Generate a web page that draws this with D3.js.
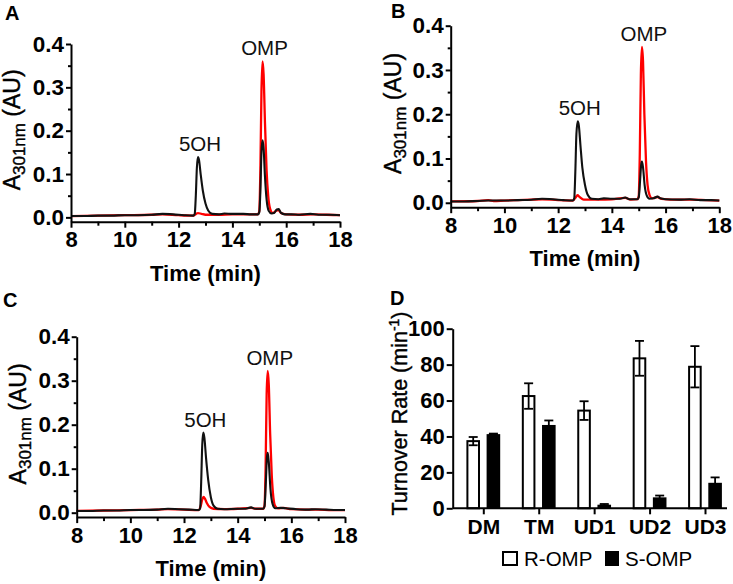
<!DOCTYPE html>
<html><head><meta charset="utf-8">
<script src="https://cdn.jsdelivr.net/npm/d3@7"></script>
<style>body{margin:0;background:#fff}</style>
</head><body>
<svg id="c" width="733" height="584" xmlns="http://www.w3.org/2000/svg"></svg>
<script>
// ---------- DATA ----------
const timeTicks = [8, 10, 12, 14, 16, 18];
const timeMinorTicks = [9, 11, 13, 15, 17];
const absTicks = [0.0, 0.1, 0.2, 0.3, 0.4];
const absMinorTicks = [0.05, 0.15, 0.25, 0.35];

// Panel A chromatograms [time (min), A301 (AU)]
const aBlack = [[8.0,0.003],[8.5,0.003],[9.0,0.004],[9.5,0.004],[10.0,0.005],[10.5,0.005],[11.0,0.006],[11.4,0.008],[11.8,0.007],[12.2,0.005],[12.55,0.004],[12.6,0.008],[12.64,0.05],[12.68,0.115],[12.72,0.139],[12.76,0.132],[12.82,0.1],[12.9,0.062],[13.0,0.032],[13.1,0.016],[13.25,0.008],[13.5,0.007],[13.7,0.009],[14.0,0.008],[14.4,0.008],[14.7,0.007],[14.95,0.007],[15.0,0.012],[15.04,0.06],[15.08,0.15],[15.12,0.178],[15.16,0.16],[15.21,0.095],[15.27,0.042],[15.35,0.015],[15.45,0.009],[15.55,0.01],[15.65,0.018],[15.72,0.019],[15.8,0.011],[15.95,0.007],[16.2,0.007],[16.5,0.006],[16.9,0.008],[17.2,0.006],[17.6,0.006],[18.0,0.005]];
const aRed = [[8.0,0.003],[9.0,0.004],[10.0,0.005],[11.0,0.006],[11.4,0.007],[12.0,0.005],[12.55,0.004],[12.65,0.008],[12.72,0.01],[12.85,0.008],[13.0,0.006],[13.5,0.006],[14.0,0.007],[14.5,0.007],[14.95,0.007],[15.0,0.015],[15.04,0.11],[15.08,0.29],[15.12,0.36],[15.16,0.33],[15.21,0.22],[15.27,0.11],[15.33,0.05],[15.4,0.02],[15.5,0.01],[15.65,0.016],[15.72,0.017],[15.8,0.01],[16.0,0.007],[16.5,0.006],[17.0,0.007],[17.5,0.006],[18.0,0.005]];

// Panel B
const bBlack = [[8.0,0.003],[8.5,0.003],[9.0,0.004],[9.4,0.005],[10.0,0.005],[10.5,0.006],[11.0,0.007],[11.4,0.009],[11.8,0.008],[12.2,0.006],[12.55,0.005],[12.6,0.01],[12.64,0.07],[12.68,0.155],[12.73,0.184],[12.77,0.175],[12.83,0.13],[12.9,0.08],[13.0,0.04],[13.1,0.018],[13.25,0.009],[13.5,0.008],[13.7,0.01],[14.0,0.009],[14.3,0.009],[14.5,0.012],[14.65,0.008],[14.95,0.008],[15.0,0.012],[15.05,0.05],[15.09,0.085],[15.12,0.093],[15.16,0.08],[15.22,0.04],[15.3,0.016],[15.4,0.009],[15.55,0.01],[15.7,0.014],[15.8,0.01],[16.0,0.008],[16.5,0.007],[16.9,0.008],[17.3,0.006],[17.7,0.006],[18.0,0.005]];
const bRed = [[8.0,0.003],[9.0,0.004],[9.4,0.006],[9.6,0.004],[10.0,0.005],[11.0,0.007],[11.4,0.008],[12.0,0.006],[12.55,0.005],[12.65,0.012],[12.72,0.017],[12.8,0.013],[12.95,0.007],[13.5,0.007],[14.0,0.008],[14.5,0.011],[14.7,0.007],[14.95,0.008],[15.0,0.015],[15.04,0.11],[15.08,0.29],[15.12,0.352],[15.16,0.32],[15.21,0.2],[15.27,0.095],[15.33,0.04],[15.4,0.018],[15.5,0.01],[15.7,0.013],[15.85,0.009],[16.5,0.007],[17.0,0.007],[17.5,0.006],[18.0,0.005]];

// Panel C
const cBlack = [[8.0,0.004],[8.5,0.004],[9.0,0.005],[9.5,0.005],[10.0,0.006],[10.5,0.006],[11.0,0.007],[11.4,0.009],[11.8,0.008],[12.2,0.007],[12.55,0.006],[12.6,0.01],[12.64,0.07],[12.68,0.155],[12.72,0.182],[12.76,0.17],[12.82,0.125],[12.9,0.075],[13.0,0.035],[13.1,0.016],[13.25,0.009],[13.5,0.008],[14.0,0.009],[14.3,0.009],[14.5,0.012],[14.65,0.009],[14.95,0.009],[15.0,0.014],[15.05,0.07],[15.09,0.125],[15.12,0.136],[15.16,0.115],[15.22,0.055],[15.3,0.02],[15.4,0.01],[15.6,0.011],[15.8,0.01],[16.2,0.008],[16.6,0.007],[16.9,0.008],[17.3,0.007],[17.7,0.006],[18.0,0.006]];
const cRed = [[8.0,0.004],[9.0,0.005],[10.0,0.006],[11.0,0.007],[11.4,0.008],[12.0,0.007],[12.55,0.006],[12.62,0.015],[12.68,0.03],[12.73,0.036],[12.78,0.032],[12.85,0.022],[12.95,0.013],[13.1,0.009],[13.5,0.008],[14.0,0.009],[14.5,0.011],[14.7,0.009],[14.95,0.009],[15.0,0.016],[15.04,0.1],[15.08,0.27],[15.12,0.322],[15.16,0.29],[15.21,0.18],[15.27,0.085],[15.33,0.035],[15.4,0.015],[15.5,0.01],[15.7,0.011],[16.0,0.008],[16.5,0.007],[17.0,0.007],[17.5,0.006],[18.0,0.006]];

const peakLabels = ["5OH", "OMP"];

// Panel D bar chart
const categories = ["DM", "TM", "UD1", "UD2", "UD3"];
const seriesNames = ["R-OMP", "S-OMP"];
const rOmp    = [37.4, 62.5, 54.4, 83.5, 78.8];
const rOmpErr = [2.3, 7.1, 5.2, 9.7, 11.5];
const sOmp    = [41.3, 46.4, 2.0, 6.1, 14.2];
const sOmpErr = [0.3, 2.5, 0.4, 1.0, 3.0];
const rateTicks = [0, 20, 40, 60, 80, 100];

// ---------- DRAW ----------
const FONT = "'Liberation Sans', Arial, Helvetica, sans-serif";
const svg = d3.select("#c").style("font-family", FONT);

function styleAxis(sel, size) {
  sel.selectAll("path").attr("stroke", "#000").attr("stroke-width", 2);
  sel.selectAll("line").attr("stroke", "#000").attr("stroke-width", 2);
  sel.selectAll("text").attr("font-family", FONT).attr("font-weight", "bold")
     .attr("font-size", size).attr("fill", "#000");
}

function chromatogram(p) {
  const g = svg.append("g");
  const x = d3.scaleLinear().domain([8, 18]).range([p.x0, p.x1]);
  const y = d3.scaleLinear().domain([-0.01, 0.4]).range([p.yb, p.yt]);
  const line = d3.line().x(d => x(d[0])).y(d => y(d[1])).curve(d3.curveMonotoneX);

  g.append("path").datum(p.red).attr("d", line).attr("fill", "none")
    .attr("stroke", "#ff0000").attr("stroke-width", 2.3).attr("stroke-linejoin", "round");
  g.append("path").datum(p.black).attr("d", line).attr("fill", "none")
    .attr("stroke", "#111").attr("stroke-width", 2.1).attr("stroke-linejoin", "round");

  // axes
  const xa = g.append("g").attr("transform", `translate(0,${p.yb})`)
    .call(d3.axisBottom(x).tickValues(timeTicks).tickSize(6).tickSizeOuter(0).tickPadding(4).tickFormat(d3.format("d")));
  styleAxis(xa, 22);
  const xm = g.append("g").attr("transform", `translate(0,${p.yb})`)
    .call(d3.axisBottom(x).tickValues(timeMinorTicks).tickSize(4).tickSizeOuter(0).tickFormat(""));
  styleAxis(xm, 22); xm.select("path").remove();

  const ya = g.append("g").attr("transform", `translate(${p.x0},0)`)
    .call(d3.axisLeft(y).tickValues(absTicks).tickSize(5).tickSizeOuter(0).tickPadding(2).tickFormat(d3.format(".1f")));
  styleAxis(ya, 22.5);
  const ym = g.append("g").attr("transform", `translate(${p.x0},0)`)
    .call(d3.axisLeft(y).tickValues(absMinorTicks).tickSize(3).tickSizeOuter(0).tickFormat(""));
  styleAxis(ym, 22); ym.select("path").remove();

  // axis titles
  g.append("text").attr("x", (p.x0 + p.x1) / 2).attr("y", p.yb + 59)
    .attr("text-anchor", "middle").attr("font-weight", "bold").attr("font-size", 22)
    .text("Time (min)");
  const yl = g.append("text")
    .attr("transform", `translate(${p.ylx},${(p.yt + p.yb) / 2 - 3}) rotate(-90)`)
    .attr("text-anchor", "middle").attr("font-size", 23).attr("stroke", "#000").attr("stroke-width", 0.4);
  yl.append("tspan").text("A");
  yl.append("tspan").attr("font-size", 17).attr("dy", 5).text("301nm");
  yl.append("tspan").attr("dy", -5).text(" (AU)");

  // peak annotations from data maxima
  const win5 = p.black.filter(d => d[0] > 12.4 && d[0] < 13.2);
  const pk5 = win5.reduce((a, b) => b[1] > a[1] ? b : a);
  const winO = p.black.concat(p.red).filter(d => d[0] > 14.9 && d[0] < 15.4);
  const pkO = winO.reduce((a, b) => b[1] > a[1] ? b : a);
  [[pk5, peakLabels[0]], [pkO, peakLabels[1]]].forEach(([pk, lab]) => {
    g.append("text").attr("x", x(pk[0]) + 2).attr("y", y(pk[1]) - 6)
      .attr("text-anchor", "middle").attr("font-size", 20.5).attr("fill", "#111").text(lab);
  });

  svg.append("text").attr("x", p.lx).attr("y", p.ly).attr("font-weight", "bold")
    .attr("font-size", 20).text(p.letter);
}

chromatogram({letter: "A", lx: 5, ly: 20, x0: 71, x1: 340, yt: 44, yb: 221.7, ylx: 20, black: aBlack, red: aRed});
chromatogram({letter: "B", lx: 391, ly: 18, x0: 450.7, x1: 719.3, yt: 25.7, yb: 207.2, ylx: 401, black: bBlack, red: bRed});
chromatogram({letter: "C", lx: 3, ly: 307, x0: 76.7, x1: 345, yt: 336.7, yb: 517.1, ylx: 26, black: cBlack, red: cRed});

// ---------- Panel D ----------
(function () {
  const g = svg.append("g");
  const axX = 452.7, axR = 727, y0 = 508.3, yTop = 328.7;
  const x = d3.scalePoint().domain(categories).range([483.3, 705]);
  const y = d3.scaleLinear().domain([0, 100]).range([y0, yTop]);
  const bw = 13.6, off = 3.3, cap = 4.5;

  const rows = categories.map((c, i) => ({c, r: rOmp[i], re: rOmpErr[i], s: sOmp[i], se: sOmpErr[i]}));

  // R-OMP (white, outlined)
  g.selectAll("rect.r").data(rows).join("rect").attr("class", "r")
    .attr("x", d => x(d.c) - off - bw + 1).attr("width", bw - 2)
    .attr("y", d => y(d.r)).attr("height", d => y0 - y(d.r))
    .attr("fill", "#fff").attr("stroke", "#000").attr("stroke-width", 2);
  // S-OMP (black)
  g.selectAll("rect.s").data(rows).join("rect").attr("class", "s")
    .attr("x", d => x(d.c) + off).attr("width", bw)
    .attr("y", d => y(d.s)).attr("height", d => y0 - y(d.s))
    .attr("fill", "#000");

  // error bars
  const errs = [];
  rows.forEach(d => {
    errs.push({cx: x(d.c) - off - bw / 2, v: d.r, e: d.re});
    errs.push({cx: x(d.c) + off + bw / 2, v: d.s, e: d.se});
  });
  const eg = g.selectAll("g.err").data(errs).join("g").attr("class", "err")
    .attr("stroke", "#000").attr("stroke-width", 1.8);
  eg.append("line").attr("x1", d => d.cx).attr("x2", d => d.cx)
    .attr("y1", d => y(d.v - d.e)).attr("y2", d => y(d.v + d.e));
  eg.append("line").attr("x1", d => d.cx - cap).attr("x2", d => d.cx + cap)
    .attr("y1", d => y(d.v + d.e)).attr("y2", d => y(d.v + d.e));
  eg.append("line").attr("x1", d => d.cx - cap).attr("x2", d => d.cx + cap)
    .attr("y1", d => y(d.v - d.e)).attr("y2", d => y(d.v - d.e));

  // axes
  const xa = g.append("g").attr("transform", `translate(0,${y0})`)
    .call(d3.axisBottom(x).tickSize(6).tickSizeOuter(0).tickPadding(5));
  styleAxis(xa, 21);
  xa.select("path").remove();
  g.append("line").attr("x1", axX).attr("x2", axR).attr("y1", y0).attr("y2", y0)
    .attr("stroke", "#000").attr("stroke-width", 2);

  const ya = g.append("g").attr("transform", `translate(${axX},0)`)
    .call(d3.axisLeft(y).tickValues(rateTicks).tickSize(6).tickSizeOuter(0).tickPadding(2));
  styleAxis(ya, 22);

  const yl = g.append("text")
    .attr("transform", `translate(407,${(y0 + yTop) / 2 - 5}) rotate(-90)`)
    .attr("text-anchor", "middle").attr("font-size", 21.5).attr("stroke", "#000").attr("stroke-width", 0.4);
  yl.append("tspan").text("Turnover Rate (min");
  yl.append("tspan").attr("font-size", 14).attr("dy", -8).text("-1");
  yl.append("tspan").attr("dy", 8).text(")");

  // legend
  const lg = g.append("g");
  lg.append("rect").attr("x", 503).attr("y", 552).attr("width", 14).attr("height", 13)
    .attr("fill", "#fff").attr("stroke", "#000").attr("stroke-width", 2);
  lg.append("text").attr("x", 524).attr("y", 566).attr("font-size", 20.5).text(seriesNames[0]);
  lg.append("rect").attr("x", 605).attr("y", 551).attr("width", 14).attr("height", 15).attr("fill", "#000");
  lg.append("text").attr("x", 625).attr("y", 566).attr("font-size", 20.5).text(seriesNames[1]);

  svg.append("text").attr("x", 390).attr("y", 305).attr("font-weight", "bold")
    .attr("font-size", 20).text("D");
})();
</script>
</body></html>
